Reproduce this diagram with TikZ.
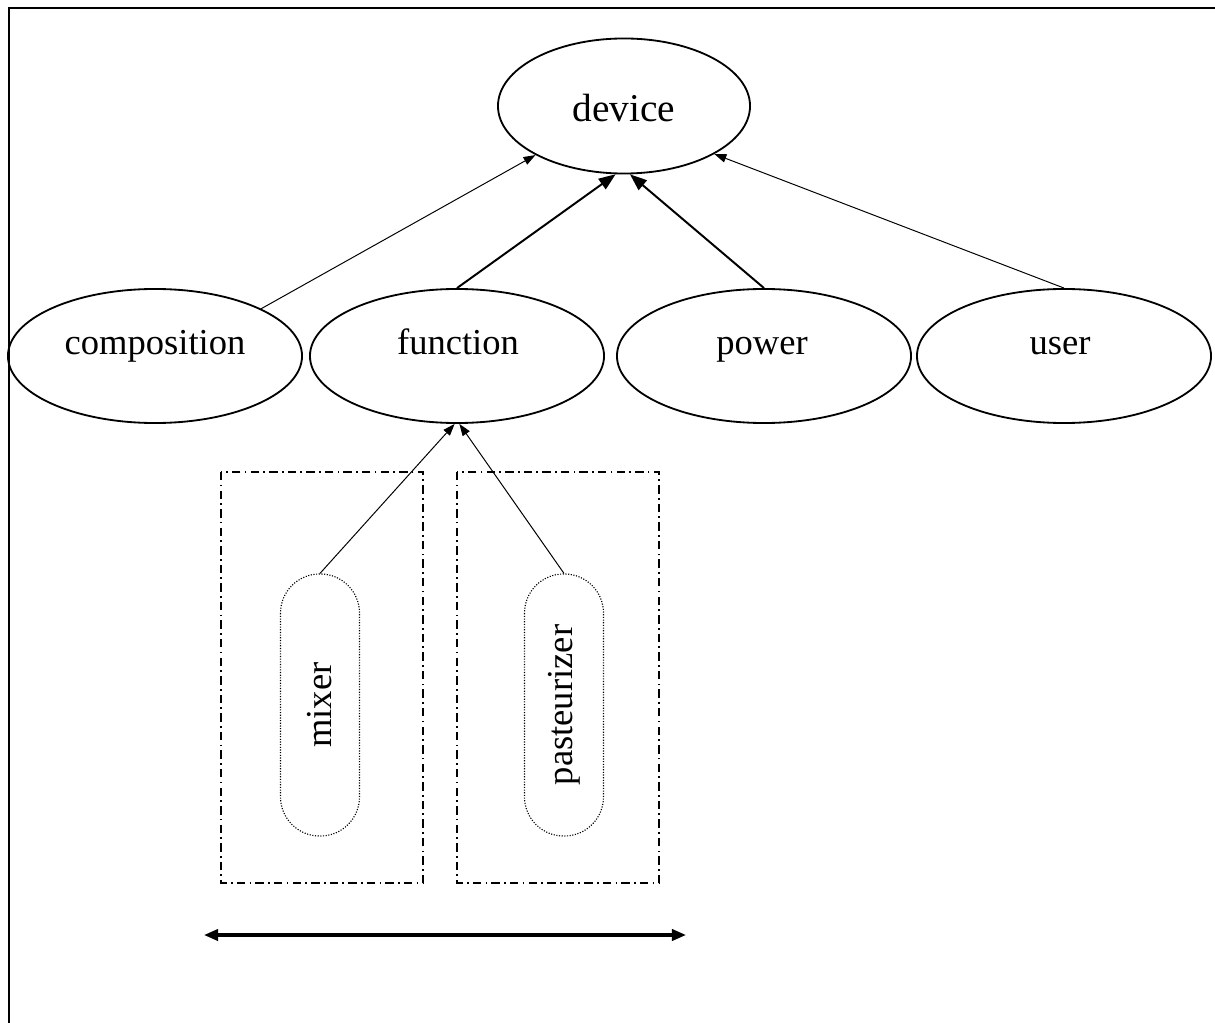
\documentclass[tikz,border=0pt]{standalone}
\usepackage{fontspec}
\setmainfont{Liberation Serif}
\usetikzlibrary{shapes.geometric,arrows.meta}
\begin{document}
\begin{tikzpicture}[x=0.025cm,y=-0.025cm,
  ell/.style={draw,ellipse,line width=1.3pt,inner sep=0pt,minimum width=7.35cm,minimum height=3.35cm},
  rowtxt/.style={font=\fontsize{26}{30}\selectfont,anchor=base,inner sep=0pt},
  capsule/.style={draw,rectangle,rotate=90,line width=0.8pt,dash pattern=on 0.8pt off 1.1pt,
     minimum width=6.55cm,minimum height=1.975cm,rounded corners=0.98cm,inner sep=0pt,
     font=\fontsize{26}{30}\selectfont},
  grp/.style={line width=1pt,dash pattern=on 6pt off 3pt on 1.2pt off 3pt},
  thin/.style={line width=0.7pt,-{Triangle[length=8.5pt,width=6pt]}},
  thick/.style={line width=1.4pt,-{Triangle[length=12pt,width=9pt]}},
  dbl/.style={line width=2.2pt,{Triangle[length=10pt,width=8pt]}-{Triangle[length=10pt,width=8pt]}}
]
\useasboundingbox (0,0) rectangle (1215,1023);
\draw[line width=1.4pt] (9,1023) -- (9,8) -- (1215,8);

\node[ell,minimum width=6.3cm,minimum height=3.375cm] (device) at (624,106) {};
\node[rowtxt,font=\fontsize{28}{32}\selectfont] (devicetxt) at (624,122) {device};
\node[ell] (composition) at (155,356) {};
\node[rowtxt] (compositiontxt) at (155,355) {composition};
\node[ell] (function) at (457,356) {};
\node[rowtxt] (functiontxt) at (458,355) {function};
\node[ell] (power) at (764,356) {};
\node[rowtxt] (powertxt) at (762,355) {power};
\node[ell] (user) at (1064,356) {};
\node[rowtxt] (usertxt) at (1060,355) {user};

\draw[grp] (221,472) rectangle (423,883);
\draw[grp] (457,472) rectangle (659,883);

\node[capsule] (mixer) at (320,705) {mixer};
\node[capsule] (pasteurizer) at (564,705) {pasteurizer};

\draw[thin] (composition.24.5) -- (device.209);
\draw[thick] (function.north) -- (device.263);
\draw[thick] (power.north) -- (device.275);
\draw[thin] (user.north) -- (device.332);
\draw[thin] (mixer.east) -- (function.268);
\draw[thin] (pasteurizer.east) -- (function.272);

\coordinate (la) at (204,935);
\coordinate (ra) at (686,935);
\draw[dbl] (la) -- (ra);
\end{tikzpicture}
\end{document}
